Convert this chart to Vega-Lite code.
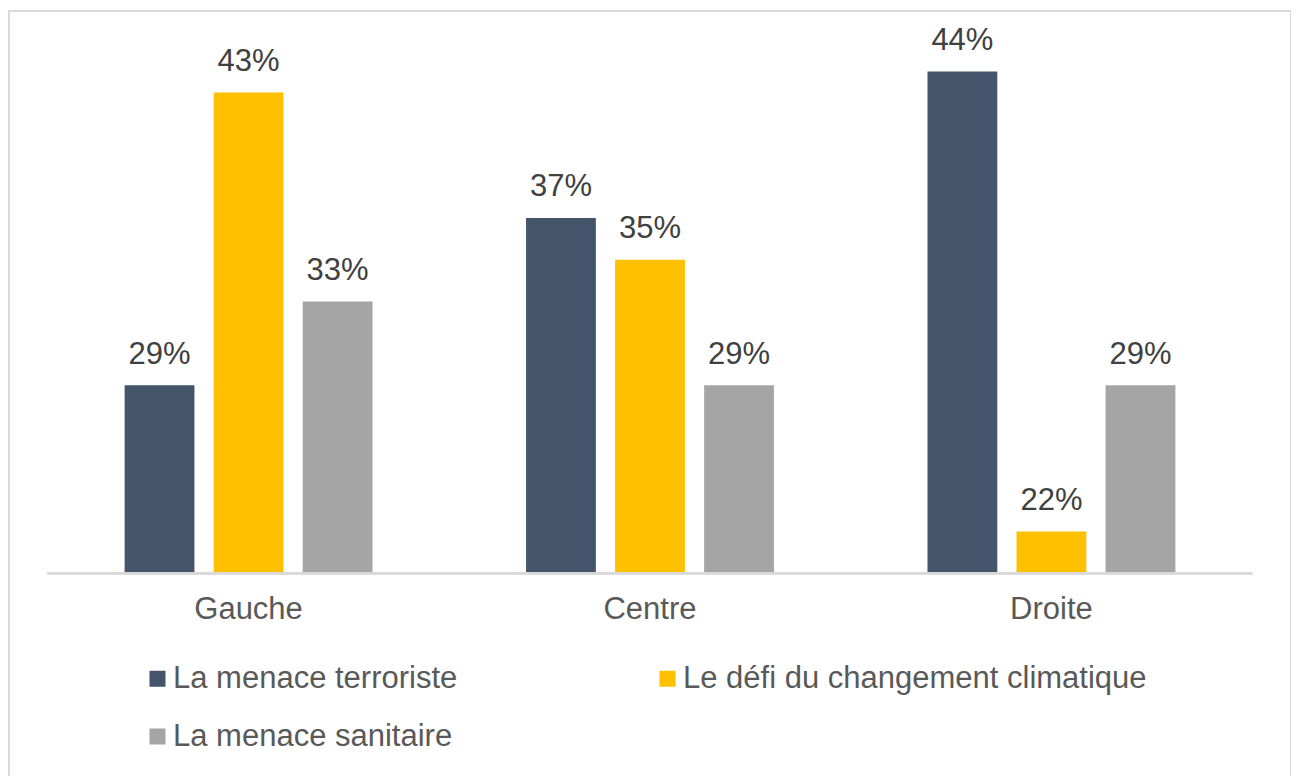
{
  "$schema": "https://vega.github.io/schema/vega-lite/v6.json",
  "width": 1282,
  "height": 770,
  "autosize": {"type": "none"},
  "padding": {"left": 9, "top": 11, "right": 0, "bottom": 0},
  "background": "white",
  "config": {
    "view": {"stroke": "#d9d9d9", "strokeWidth": 2},
    "font": "Liberation Sans"
  },
  "data": {
    "values": [
      {"groupe": "Gauche", "enjeu": "La menace terroriste", "part": 0.29},
      {"groupe": "Gauche", "enjeu": "Le défi du changement climatique", "part": 0.43},
      {"groupe": "Gauche", "enjeu": "La menace sanitaire", "part": 0.33},
      {"groupe": "Centre", "enjeu": "La menace terroriste", "part": 0.37},
      {"groupe": "Centre", "enjeu": "Le défi du changement climatique", "part": 0.35},
      {"groupe": "Centre", "enjeu": "La menace sanitaire", "part": 0.29},
      {"groupe": "Droite", "enjeu": "La menace terroriste", "part": 0.44},
      {"groupe": "Droite", "enjeu": "Le défi du changement climatique", "part": 0.22},
      {"groupe": "Droite", "enjeu": "La menace sanitaire", "part": 0.29}
    ]
  },
  "encoding": {
    "x": {
      "field": "groupe",
      "type": "nominal",
      "sort": ["Gauche", "Centre", "Droite"],
      "scale": {"paddingInner": 0.3825, "paddingOuter": 0.288},
      "axis": {
        "orient": "bottom",
        "offset": -208,
        "title": null,
        "domain": false,
        "ticks": false,
        "tickSize": 0,
        "labelAngle": 0,
        "labelFontSize": 31,
        "labelColor": "#595959",
        "labelPadding": 21,
        "labelLimit": 1000
      }
    }
  },
  "layer": [
    {
      "mark": {"type": "bar"},
      "encoding": {
        "xOffset": {
          "field": "enjeu",
          "type": "nominal",
          "sort": ["La menace terroriste", "Le défi du changement climatique", "La menace sanitaire"],
          "scale": {"paddingInner": 0.216, "paddingOuter": 0}
        },
        "y": {
          "field": "part",
          "type": "quantitative",
          "scale": {"domain": [0.1006, 0.469], "zero": false, "nice": false},
          "axis": null
        },
        "y2": {"datum": 0.2},
        "color": {
          "field": "enjeu",
          "type": "nominal",
          "sort": ["La menace terroriste", "Le défi du changement climatique", "La menace sanitaire"],
          "scale": {
            "domain": ["La menace terroriste", "Le défi du changement climatique", "La menace sanitaire"],
            "range": ["#44546A", "#FFC000", "#A5A5A5"]
          },
          "legend": {
            "title": null,
            "orient": "none",
            "legendX": 133,
            "legendY": 652,
            "direction": "horizontal",
            "columns": 2,
            "columnPadding": 194,
            "rowPadding": 26,
            "padding": 0,
            "symbolType": "square",
            "symbolSize": 256,
            "symbolStrokeWidth": 0,
            "symbolOpacity": 1,
            "labelFontSize": 31,
            "labelColor": "#595959",
            "labelOffset": 0,
            "labelLimit": 1000
          }
        }
      }
    },
    {
      "mark": {"type": "text", "baseline": "alphabetic", "dy": -21.5, "fontSize": 31, "color": "#404040"},
      "encoding": {
        "xOffset": {
          "field": "enjeu",
          "type": "nominal",
          "sort": ["La menace terroriste", "Le défi du changement climatique", "La menace sanitaire"]
        },
        "y": {"field": "part", "type": "quantitative"},
        "text": {"field": "part", "type": "quantitative", "format": ".0%"}
      }
    },
    {
      "mark": {"type": "rule", "color": "#d9d9d9", "strokeWidth": 2},
      "encoding": {
        "x": {"datum": "Gauche", "type": "nominal", "bandPosition": -0.31},
        "x2": {"datum": "Droite", "bandPosition": 1.31},
        "y": {"datum": 0.2, "type": "quantitative"}
      }
    }
  ]
}
